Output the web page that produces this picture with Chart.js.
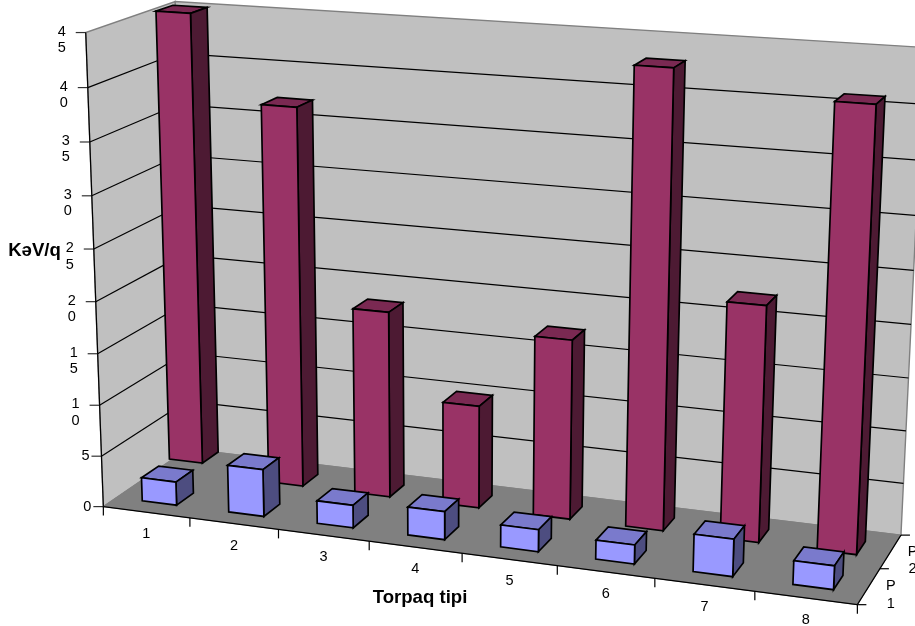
<!DOCTYPE html>
<html>
<head>
<meta charset="utf-8">
<style>html,body{margin:0;padding:0;background:#fff}canvas{display:block}</style>
<script src="https://cdn.jsdelivr.net/npm/chart.js@4"></script>
</head>
<body>
<canvas id="chart" width="915" height="626"></canvas>
<script>
const categories = ['1', '2', '3', '4', '5', '6', '7', '8'];
const seriesNames = ['P1', 'P2'];
const p1Values = [2.3, 4.6, 2.2, 2.7, 2.1, 1.8, 3.5, 2.2];
const p2Values = [44.6, 37, 18.2, 10, 17.3, 43, 22.3, 41];
const yMax = 45;
const yStep = 5;

// projective matrix of the tilted view, fitted to the frame corners of the picture
const VIEW = [
  674.839854, -21.750059, 96.254075, 103.356134,
  42.236980, -475.618825, -29.464028, 506.600493,
  -0.092348, -0.048116, 0.062933,
];

const project = (u, v, w) => {
  const d = VIEW[8] * u + VIEW[9] * v + VIEW[10] * w + 1;
  return [
    (VIEW[0] * u + VIEW[1] * v + VIEW[2] * w + VIEW[3]) / d,
    (VIEW[4] * u + VIEW[5] * v + VIEW[6] * w + VIEW[7]) / d,
  ];
};

const FACES = {
  P1: { front: '#9999ff', top: '#7a7acc', side: '#4d4d80' },
  P2: { front: '#993366', top: '#7a2952', side: '#4d1a33' },
};

// the first back bar sits pushed into the wall corner in the original
const CORNER_BAR = { series: 1, index: 0, du: -0.042, dw: 0.158 };

const face = (ctx, points, fill, stroke, lineWidth) => {
  ctx.beginPath();
  points.forEach(([x, y], i) => (i ? ctx.lineTo(x, y) : ctx.moveTo(x, y)));
  ctx.closePath();
  ctx.fillStyle = fill;
  ctx.fill();
  ctx.strokeStyle = stroke;
  ctx.lineWidth = lineWidth;
  ctx.stroke();
};

const line = (ctx, a, b, color = '#000') => {
  ctx.beginPath();
  ctx.moveTo(a[0], a[1]);
  ctx.lineTo(b[0], b[1]);
  ctx.strokeStyle = color;
  ctx.lineWidth = 1.2;
  ctx.stroke();
};

const label = (ctx, text, x, y, font) => {
  ctx.font = font;
  ctx.fillStyle = '#000';
  ctx.textAlign = 'center';
  ctx.textBaseline = 'middle';
  ctx.fillText(text, x, y);
};

const TICK_FONT = '14.5px "Liberation Sans", Arial, sans-serif';
const TITLE_FONT = 'bold 18.6px "Liberation Sans", Arial, sans-serif';

const view3d = {
  id: 'view3d',
  beforeDatasetsDraw(chart) {
    const { ctx, chartArea: area, scales: { x, y } } = chart;
    const toU = (px) => (px - area.left) / area.width;
    const toV = (py) => (area.bottom - py) / area.height;

    // walls and floor
    face(ctx, [project(0, 0, 0), project(0, 1, 0), project(0, 1, 1), project(0, 0, 1)], '#c0c0c0', '#808080', 1.4);
    face(ctx, [project(0, 0, 1), project(0, 1, 1), project(1, 1, 1), project(1, 0, 1)], '#c0c0c0', '#808080', 1.4);
    face(ctx, [project(0, 0, 0), project(0, 0, 1), project(1, 0, 1), project(1, 0, 0)], '#808080', '#808080', 1);

    // value axis
    y.ticks.forEach(({ value }) => {
      const v = toV(y.getPixelForValue(value));
      const start = project(0, v, 0);
      if (value > 0 && value < yMax) {
        line(ctx, start, project(0, v, 1));
        line(ctx, project(0, v, 1), project(1, v, 1));
      }
      line(ctx, [start[0] - 10, start[1]], start, '#333');
      const digits = String(value).split('');
      if (digits.length > 1) {
        digits.forEach((digit, i) => label(ctx, digit, start[0] - 24, start[1] - 1 + i * 16.5, TICK_FONT));
      } else {
        label(ctx, digits[0], start[0] - 16, start[1], TICK_FONT);
      }
    });
    line(ctx, project(0, 0, 0), project(0, 1, 0));

    // category axis
    line(ctx, project(0, 0, 0), project(1, 0, 0));
    const step = x.getPixelForValue(1) - x.getPixelForValue(0);
    categories.forEach((category, i) => {
      const mid = project(toU(x.getPixelForValue(i)), 0, 0);
      label(ctx, category, mid[0], mid[1] + 22, TICK_FONT);
      const edge = project(toU(x.getPixelForValue(i) - step / 2), 0, 0);
      line(ctx, edge, [edge[0], edge[1] + 9]);
    });
    const end = project(1, 0, 0);
    line(ctx, end, [end[0], end[1] + 9]);

    // series axis
    line(ctx, project(1, 0, 0), project(1, 0, 1));
    [0, 0.5, 1].forEach((w) => {
      const p = project(1, 0, w);
      line(ctx, p, [p[0] + 9, p[1]]);
    });
    seriesNames.forEach((name, i) => {
      const p = project(1, 0, (i + 0.5) / seriesNames.length);
      name.split('').forEach((ch, k) => label(ctx, ch, p[0] + 22, p[1] + k * 17.5, TICK_FONT));
    });

    // axis titles
    label(ctx, 'KəV/q', 34.5, 251, TITLE_FONT);
    label(ctx, 'Torpaq tipi', 420, 598, TITLE_FONT);

    // back row first, so the front row overlaps it
    [1, 0].forEach((series) => {
      const colors = FACES[seriesNames[series]];
      const rowDepth = 1 / seriesNames.length;
      chart.getDatasetMeta(series).data.forEach((bar, index) => {
        const { x: cx, y: top, base, width } = bar.getProps(['x', 'y', 'base', 'width'], true);
        const nudged = series === CORNER_BAR.series && index === CORNER_BAR.index;
        const du = nudged ? CORNER_BAR.du : 0;
        const dw = nudged ? CORNER_BAR.dw : 0;
        const u0 = toU(cx - width / 2) + du;
        const u1 = toU(cx + width / 2) + du;
        const w0 = (series + 0.3) * rowDepth + dw;
        const w1 = (series + 0.7) * rowDepth + dw;
        const v0 = toV(base);
        const v1 = toV(top);
        face(ctx, [project(u0, v1, w0), project(u0, v1, w1), project(u1, v1, w1), project(u1, v1, w0)], colors.top, '#000', 1.7);
        face(ctx, [project(u1, v0, w0), project(u1, v1, w0), project(u1, v1, w1), project(u1, v0, w1)], colors.side, '#000', 1.7);
        face(ctx, [project(u0, v0, w0), project(u0, v1, w0), project(u1, v1, w0), project(u1, v0, w0)], colors.front, '#000', 1.7);
      });
    });

    return false;
  },
};

new Chart(document.getElementById('chart'), {
  type: 'bar',
  plugins: [view3d],
  data: {
    labels: categories,
    datasets: [
      { label: seriesNames[0], data: p1Values, grouped: false },
      { label: seriesNames[1], data: p2Values, grouped: false },
    ],
  },
  options: {
    responsive: false,
    animation: false,
    barPercentage: 0.4,
    categoryPercentage: 1,
    layout: { padding: 0 },
    plugins: { legend: { display: false }, title: { display: false }, tooltip: { enabled: false } },
    scales: {
      x: { display: false },
      y: { display: false, min: 0, max: yMax, ticks: { stepSize: yStep } },
    },
  },
});
</script>
</body>
</html>
